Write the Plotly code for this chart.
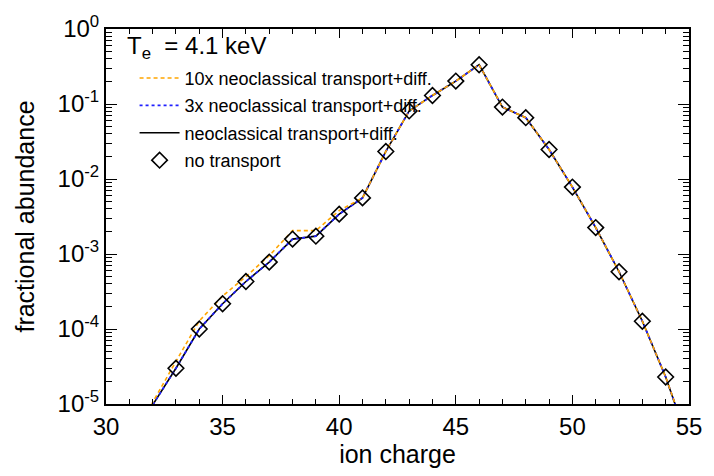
import plotly.graph_objects as go

# ---------------- data ----------------
charge = [31, 32, 33, 34, 35, 36, 37, 38, 39, 40, 41, 42, 43, 44, 45, 46, 47, 48, 49, 50, 51, 52, 53, 54, 55]

neo_1x = [1.0e-6, 9.7e-6, 3.0e-5, 1.0e-4, 2.17e-4, 4.3e-4, 7.8e-4, 1.58e-3, 1.73e-3, 3.4e-3, 5.6e-3,
          0.0233, 0.0808, 0.130, 0.202, 0.334, 0.091, 0.0657, 0.0247, 7.8e-3, 2.25e-3, 5.8e-4,
          1.27e-4, 2.29e-5, 2.9e-6]
neo_3x = [1.0e-6, 9.7e-6, 3.0e-5, 1.0e-4, 2.17e-4, 4.3e-4, 7.8e-4, 1.58e-3, 1.73e-3, 3.4e-3, 5.6e-3,
          0.0233, 0.0808, 0.130, 0.202, 0.334, 0.091, 0.0657, 0.0247, 7.8e-3, 2.25e-3, 5.8e-4,
          1.27e-4, 2.29e-5, 2.9e-6]
neo_10x = [2.0e-6, 1.05e-5, 3.7e-5, 1.28e-4, 2.75e-4, 5.0e-4, 9.5e-4, 2.05e-3, 2.05e-3, 3.8e-3, 5.6e-3,
           0.0233, 0.0808, 0.130, 0.202, 0.334, 0.091, 0.0657, 0.0247, 7.8e-3, 2.25e-3, 5.8e-4,
           1.27e-4, 2.29e-5, 3.0e-6]

charge_nt = [33, 34, 35, 36, 37, 38, 39, 40, 41, 42, 43, 44, 45, 46, 47, 48, 49, 50, 51, 52, 53, 54]
no_transport = [3.0e-5, 1.0e-4, 2.17e-4, 4.3e-4, 7.8e-4, 1.58e-3, 1.73e-3, 3.4e-3, 5.6e-3,
                0.0233, 0.0808, 0.130, 0.202, 0.334, 0.091, 0.0657, 0.0247, 7.8e-3, 2.25e-3,
                5.8e-4, 1.27e-4, 2.29e-5]

labels = ["10x neoclassical transport+diff.", "3x neoclassical transport+diff.",
          "neoclassical transport+diff.", "no transport"]

y_decades = [-5, -4, -3, -2, -1, 0]
y_ticktext = ["10<sup>%d</sup>" % e for e in y_decades]

FONT = "Liberation Sans, Arial, Helvetica, sans-serif"

fig = go.Figure()

fig.add_trace(go.Scatter(x=charge, y=neo_1x, mode="lines", name=labels[2],
                         line=dict(color="black", width=1.6),
                         legendgroup="c", legendrank=3))
fig.add_trace(go.Scatter(x=charge, y=neo_3x, mode="lines", name=labels[1],
                         line=dict(color="#2020ff", width=1.8, dash="dot"),
                         legendgroup="b", legendrank=2))
fig.add_trace(go.Scatter(x=charge, y=neo_10x, mode="lines", name=labels[0],
                         line=dict(color="#ffa500", width=1.6, dash="4px,3px"),
                         legendgroup="a", legendrank=1))
fig.add_trace(go.Scatter(x=charge_nt, y=no_transport, mode="markers", name=labels[3],
                         marker=dict(symbol="diamond-open", size=12, color="black",
                                     line=dict(width=1.6, color="black")),
                         legendgroup="d", legendrank=4))

axis_common = dict(
    showline=True, linecolor="black", linewidth=2, mirror="allticks",
    ticks="inside", tickcolor="black", tickwidth=1.2,
    showgrid=False, zeroline=False, ticklabeloverflow="allow",
    tickfont=dict(family=FONT, size=24, color="black"),
)

fig.update_xaxes(
    range=[30, 55], tick0=30, dtick=5, ticklen=9,
    minor=dict(ticks="inside", dtick=1, ticklen=5, tickcolor="black", tickwidth=1.2, showgrid=False),
    title=dict(text="ion charge", font=dict(family=FONT, size=25, color="black"), standoff=7),
    **axis_common,
)

minor_vals = [m * 10.0 ** e for e in y_decades[:-1] for m in range(2, 10)]
fig.update_yaxes(
    type="log", range=[-5, 0],
    tickmode="array", tickvals=[10.0 ** e for e in y_decades], ticktext=y_ticktext, ticklen=11,
    minor=dict(ticks="inside", tickmode="array", tickvals=minor_vals, ticklen=6,
               tickcolor="black", tickwidth=1.2, showgrid=False),
    title=dict(text="fractional abundance", font=dict(family=FONT, size=25, color="black"), standoff=16),
    **axis_common,
)

fig.add_annotation(
    xref="paper", yref="paper", x=0.032, y=0.952, xanchor="left", yanchor="middle",
    text="T<sub>e</sub>  = 4.1 keV", showarrow=False,
    font=dict(family=FONT, size=24, color="black"),
)

fig.update_layout(
    width=714, height=476,
    margin=dict(l=106, r=17, t=15, b=72),
    paper_bgcolor="white", plot_bgcolor="white",
    font=dict(family=FONT, color="black"),
    showlegend=True,
    legend=dict(
        x=0.049, y=0.918, xanchor="left", yanchor="top",
        bgcolor="rgba(0,0,0,0)", borderwidth=0,
        font=dict(family=FONT, size=18, color="black"),
        traceorder="grouped", tracegroupgap=1, itemwidth=40,
    ),
)

fig.write_html("out.html")
